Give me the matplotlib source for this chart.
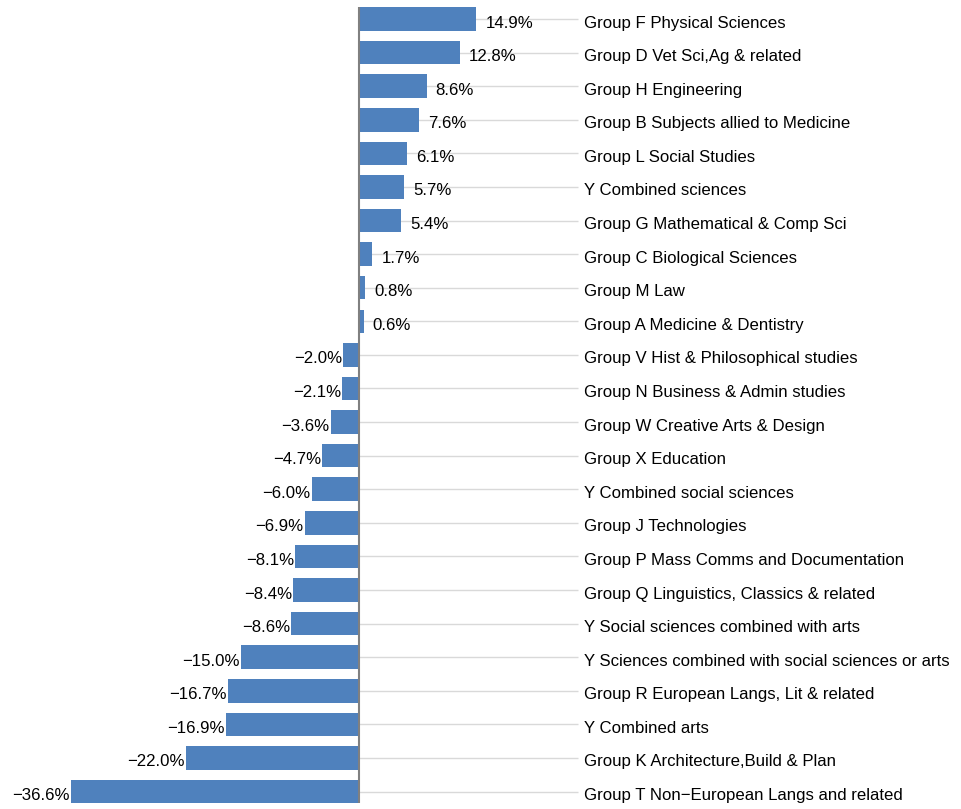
import matplotlib
matplotlib.use("Agg")
import matplotlib.pyplot as plt
from matplotlib.transforms import offset_copy

plt.rcParams["font.family"] = ["Liberation Sans", "DejaVu Sans"]

# --------- DATA ---------
subjects = [
    "Group F Physical Sciences",
    "Group D Vet Sci,Ag & related",
    "Group H Engineering",
    "Group B Subjects allied to Medicine",
    "Group L Social Studies",
    "Y Combined sciences",
    "Group G Mathematical & Comp Sci",
    "Group C Biological Sciences",
    "Group M Law",
    "Group A Medicine & Dentistry",
    "Group V Hist & Philosophical studies",
    "Group N Business & Admin studies",
    "Group W Creative Arts & Design",
    "Group X Education",
    "Y Combined social sciences",
    "Group J Technologies",
    "Group P Mass Comms and Documentation",
    "Group Q Linguistics, Classics & related",
    "Y Social sciences combined with arts",
    "Y Sciences combined with social sciences or arts",
    "Group R European Langs, Lit & related",
    "Y Combined arts",
    "Group K Architecture,Build & Plan",
    "Group T Non\u2212European Langs and related",
]
change_pct = [14.9, 12.8, 8.6, 7.6, 6.1, 5.7, 5.4, 1.7, 0.8, 0.6,
              -2.0, -2.1, -3.6, -4.7, -6.0, -6.9, -8.1, -8.4, -8.6,
              -15.0, -16.7, -16.9, -22.0, -36.6]

BAR_COLOR = "#4F81BD"
LINE_END = 27.8     # where the light guide lines stop (data units)
LABEL_X = 28.6      # where subject labels start
FS = 12.1

fig = plt.figure(figsize=(9.62, 8.09), dpi=100)
ax = fig.add_axes([0, 0, 1, 1])
ax.set_xlim(-45.6, 76.6)
ax.set_ylim(23.52, -0.566)
ax.axis("off")

pos = list(range(len(subjects)))
bar_h = 0.70

# guide lines behind the bars
ax.hlines(pos, 0, LINE_END, color="#d9d9d9", linewidth=1.0, zorder=1)
ax.barh(pos, change_pct, height=bar_h, color=BAR_COLOR, zorder=2)
ax.vlines(0, -bar_h / 2, pos[-1] + bar_h / 2, color="#808080", linewidth=1.5, zorder=3)

# texts sit a few pixels below the bar centre, as in the original
right_shift = offset_copy(ax.transData, fig=fig, x=9, y=-4, units="dots")
left_shift = offset_copy(ax.transData, fig=fig, x=-1, y=-4, units="dots")
name_shift = offset_copy(ax.transData, fig=fig, x=0, y=-4, units="dots")
for p, v, name in zip(pos, change_pct, subjects):
    txt = f"{v:.1f}%".replace("-", "\u2212")
    if v >= 0:
        ax.text(v, p, txt, ha="left", va="center", fontsize=FS,
                transform=right_shift, zorder=4)
    else:
        ax.text(v, p, txt, ha="right", va="center", fontsize=FS,
                transform=left_shift, zorder=4)
    ax.text(LABEL_X, p, name, ha="left", va="center", fontsize=FS,
            transform=name_shift, zorder=4)

fig.savefig("out.png", dpi=100)
